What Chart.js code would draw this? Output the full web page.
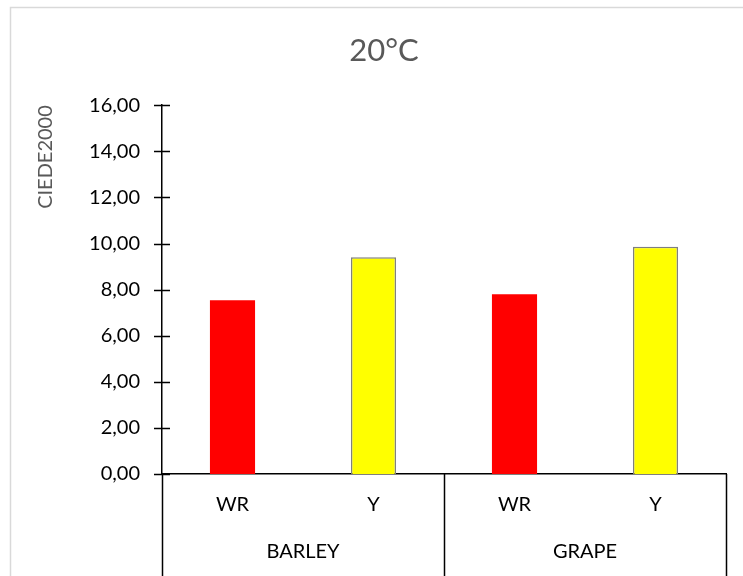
<!DOCTYPE html>
<html>
<head>
<meta charset="utf-8">
<script src="https://cdn.jsdelivr.net/npm/chart.js@4.4.1/dist/chart.umd.min.js"></script>
<style>
  html, body { margin: 0; padding: 0; background: #fff; overflow: hidden; }
  #wrap { width: 743px; height: 576px; }
</style>
</head>
<body>
<div id="wrap"><canvas id="chart" width="743" height="576"></canvas></div>
<script>
// data
const groups = ['BARLEY', 'GRAPE']
const categories = ['WR', 'Y', 'WR', 'Y']
const ciedeValues = [7.54, 9.40, 7.80, 9.86]
const yMin = 0
const yMax = 16
const yStep = 2

const fillFor = { WR: '#ff0000', Y: '#ffff00' }
const edgeFor = { WR: '#ff0000', Y: '#7f7f7f' }
const edgeWidthFor = { WR: 0, Y: 1.5 }

const font = 'Lato, "Noto Sans", sans-serif'

function formatComma(v) {
    return v.toFixed(2).replace('.', ',')
}

// excel-like details: outer frame, crossing tick marks, group dividers
const excelAxes = {
    id: 'excelAxes',
    beforeDraw(chart) {
        const ctx = chart.ctx
        ctx.save()
        ctx.strokeStyle = '#d9d9d9'
        ctx.lineWidth = 1.5
        ctx.strokeRect(10.5, 7.5, chart.width + 50, chart.height + 50)
        ctx.restore()
    },
    afterDraw(chart) {
        const { ctx, chartArea } = chart
        const x2 = chart.scales.x2
        const y = chart.scales.y
        ctx.save()
        ctx.strokeStyle = '#000'
        ctx.lineWidth = 1.5
        ctx.beginPath()
        y.ticks.forEach((t, i) => {
            const py = Math.round(y.getPixelForTick(i)) + 0.5
            ctx.moveTo(chartArea.left - 8, py)
            ctx.lineTo(chartArea.left + 8, py)
        })
        for (let i = 0; i <= groups.length; i++) {
            const px = Math.round(x2.left + i * x2.width / groups.length) + 0.5
            ctx.moveTo(px, chartArea.bottom)
            ctx.lineTo(px, chart.height)
        }
        ctx.stroke()
        ctx.restore()
    }
}

const ctx = document.getElementById('chart')
const myChart = new Chart(ctx, {
    type: 'bar',
    data: {
        labels: categories,
        datasets: [{
            data: ciedeValues,
            backgroundColor: categories.map(c => fillFor[c]),
            borderColor: categories.map(c => edgeFor[c]),
            borderWidth: categories.map(c => edgeWidthFor[c]),
            categoryPercentage: 1,
            barPercentage: 0.32
        }]
    },
    options: {
        responsive: false,
        animation: false,
        layout: { padding: { left: 42, right: 17, top: 14, bottom: 0 } },
        plugins: {
            legend: { display: false },
            tooltip: { enabled: false },
            title: {
                display: true,
                text: '20°C',
                color: '#595959',
                font: { family: font, size: 31, weight: 'normal' },
                padding: { top: 18, bottom: 36 }
            }
        },
        scales: {
            x: {
                type: 'category',
                offset: true,
                grid: { display: false, drawTicks: false },
                border: { display: true, color: '#000', width: 1.5 },
                ticks: { color: '#000', font: { family: font, size: 20 }, padding: 19 },
                afterFit(scale) { scale.height = 45 }
            },
            x2: {
                type: 'category',
                position: 'bottom',
                labels: groups,
                offset: true,
                grid: { display: false, drawTicks: false },
                border: { display: false },
                ticks: { color: '#000', font: { family: font, size: 20 }, padding: 21 },
                afterFit(scale) { scale.height = 57 }
            },
            y: {
                min: yMin,
                max: yMax,
                grid: { display: false, drawTicks: false },
                border: { display: true, color: '#000', width: 1.5 },
                ticks: {
                    stepSize: yStep,
                    color: '#000',
                    font: { family: font, size: 20 },
                    padding: 22,
                    callback: (v) => formatComma(v)
                },
                title: {
                    display: true,
                    text: 'CIEDE2000',
                    align: 'end',
                    color: '#595959',
                    font: { family: font, size: 20 },
                    padding: { top: -8, bottom: 0 }
                },
                afterFit(scale) { scale.width = 120 }
            }
        }
    },
    plugins: [excelAxes]
})
</script>
</body>
</html>
